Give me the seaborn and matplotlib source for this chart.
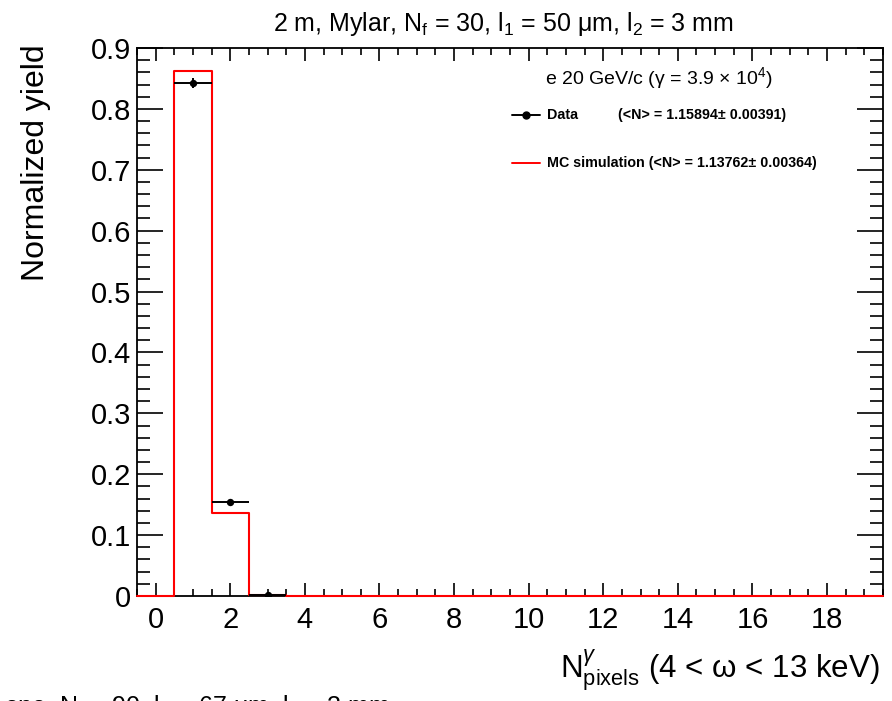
import numpy as np
import pandas as pd
import matplotlib
matplotlib.use("Agg")
import matplotlib.pyplot as plt
from matplotlib.ticker import MultipleLocator, FixedLocator, FixedFormatter
from matplotlib.lines import Line2D
import seaborn as sns

# ---- data ----
bin_centers = list(range(20))
mc_values = [0.0, 0.862, 0.1363, 0.0017, 0.0, 0.0, 0.0, 0.0, 0.0, 0.0,
             0.0, 0.0, 0.0, 0.0, 0.0, 0.0, 0.0, 0.0, 0.0, 0.0]
data_x = [1, 2, 3]
data_y = [0.843, 0.155, 0.002]
data_yerr = [0.008, 0.003, 0.0008]
ytick_values = [0, 0.1, 0.2, 0.3, 0.4, 0.5, 0.6, 0.7, 0.8, 0.9]
ytick_labels = ["0", "0.1", "0.2", "0.3", "0.4", "0.5", "0.6", "0.7", "0.8", "0.9"]
xtick_values = [0, 2, 4, 6, 8, 10, 12, 14, 16, 18]
xtick_labels = ["0", "2", "4", "6", "8", "10", "12", "14", "16", "18"]

sns.set_style("ticks")
plt.rcParams["font.family"] = ["Liberation Sans", "DejaVu Sans"]
plt.rcParams["mathtext.fontset"] = "custom"
plt.rcParams["mathtext.rm"] = "Liberation Sans"
plt.rcParams["mathtext.it"] = "Liberation Sans:italic"
plt.rcParams["mathtext.bf"] = "Liberation Sans:bold"
plt.rcParams["text.color"] = "black"
plt.rcParams["axes.labelcolor"] = "black"
plt.rcParams["xtick.color"] = "black"
plt.rcParams["ytick.color"] = "black"

fig = plt.figure(figsize=(8.92, 7.01), dpi=100)
L, R, T, B = 137, 883, 48, 596
W, H = 892, 701
ax = fig.add_axes([L / W, 1 - B / H, (R - L) / W, (B - T) / H])

mc_df = pd.DataFrame({"n": bin_centers, "w": mc_values})
sns.histplot(data=mc_df, x="n", weights="w", binwidth=1, binrange=(-0.5, 19.5),
             element="step", fill=False, color="red", linewidth=1.5, ax=ax)
for ln in ax.lines:
    ln.set_clip_on(False)
    ln.set_zorder(3)

ax.errorbar(data_x, data_y, xerr=0.5, yerr=data_yerr, fmt="none",
            ecolor="black", elinewidth=1.4, capsize=0, zorder=4)
sns.scatterplot(x=data_x, y=data_y, color="black", s=28, edgecolor="black",
                linewidth=0, ax=ax, zorder=5)

ax.set_xlim(-0.5, 19.5)
ax.set_ylim(0, 0.9)
ax.set_xlabel("")
ax.set_ylabel("")

ax.yaxis.set_major_locator(FixedLocator(ytick_values))
ax.yaxis.set_major_formatter(FixedFormatter(ytick_labels))
ax.yaxis.set_minor_locator(MultipleLocator(0.02))
ax.xaxis.set_major_locator(FixedLocator(xtick_values))
ax.xaxis.set_major_formatter(FixedFormatter(xtick_labels))
ax.xaxis.set_minor_locator(MultipleLocator(0.5))

ax.tick_params(axis="both", which="both", direction="in", top=True, right=True,
               colors="black", width=1.2)
ax.tick_params(axis="y", which="major", length=19, labelsize=21, pad=4)
ax.tick_params(axis="y", which="minor", length=9.5)
ax.tick_params(axis="x", which="major", length=9.5, labelsize=21, pad=7)
ax.tick_params(axis="x", which="minor", length=5)
for s in ax.spines.values():
    s.set_linewidth(1.3)
    s.set_color("black")

# axis titles
ax.text(-0.136, 1.006, "Normalized yield", rotation=90, ha="center", va="top",
        fontsize=23, transform=ax.transAxes)
ax.text(0.996, -0.095, r"N$^{\gamma}_{\mathrm{pixels}}$ (4 < ω < 13 keV)",
        ha="right", va="top", fontsize=22.5, transform=ax.transAxes)

# title
fig.text(0.5645, 1 - 31.5 / H,
         r"2 m, Mylar, N$_{\mathrm{f}}$ = 30, l$_{1}$ = 50 μm, l$_{2}$ = 3 mm",
         ha="center", va="baseline", fontsize=18)

# cut-off title of the neighbouring pad
fig.text(390 / W, 1 - 714 / H,
         r"ene, N$_{\mathrm{f}}$ = 90, l$_{1}$ = 67 μm, l$_{2}$ = 3 mm",
         ha="right", va="baseline", fontsize=18)

# legend
ax.text(0.547, 0.945, "e 20 GeV/c (γ = 3.9 × 10$^{4}$)",
        ha="left", va="center", fontsize=14, transform=ax.transAxes)
ax.add_line(Line2D([0.503, 0.540], [0.878, 0.878], color="black", lw=1.4,
                   transform=ax.transAxes))
ax.add_line(Line2D([0.5215], [0.878], color="black", marker="o", ms=5,
                   transform=ax.transAxes))
ax.text(0.550, 0.878, "Data", ha="left", va="center", fontsize=10.3,
        fontweight="bold", transform=ax.transAxes)
ax.text(0.645, 0.878, "(<N> = 1.15894± 0.00391)", ha="left", va="center",
        fontsize=10.3, fontweight="bold", transform=ax.transAxes)
ax.add_line(Line2D([0.503, 0.540], [0.790, 0.790], color="red", lw=1.4,
                   transform=ax.transAxes))
ax.text(0.550, 0.790, "MC simulation (<N> = 1.13762± 0.00364)", ha="left",
        va="center", fontsize=10.3, fontweight="bold", transform=ax.transAxes)

fig.savefig("out.png", dpi=100)
